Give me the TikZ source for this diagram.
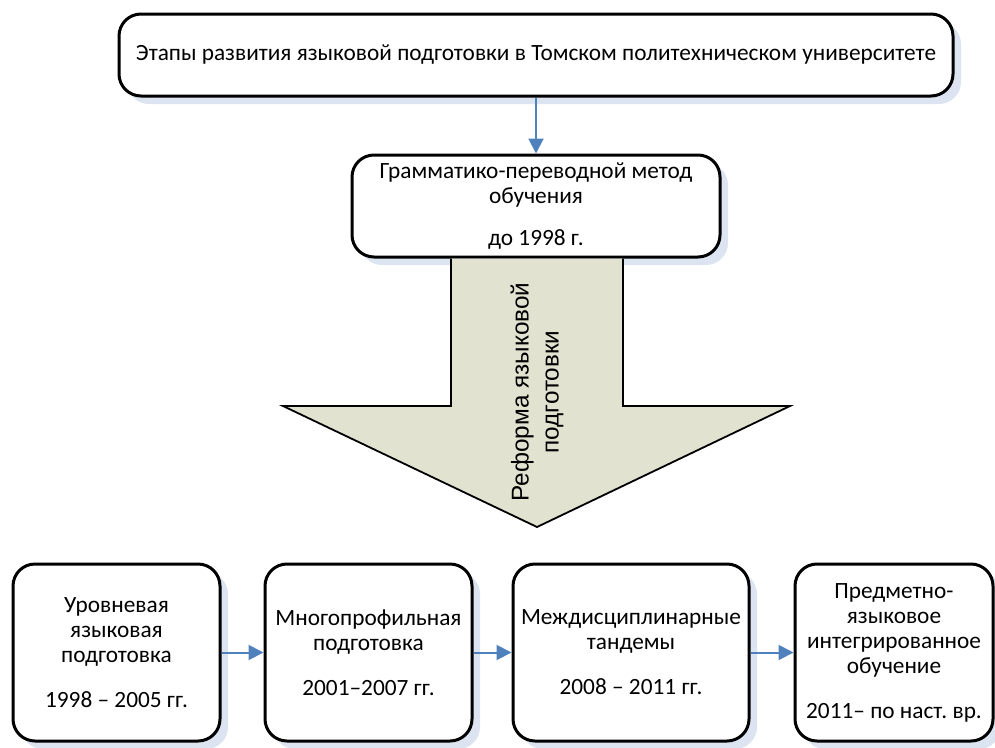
\documentclass[tikz,border=0pt]{standalone}
\usepackage{fontspec}
\setmainfont{Carlito}
\newfontfamily\arialfont{Liberation Sans}
\usetikzlibrary{arrows.meta,shadows}
\definecolor{linkblue}{RGB}{79,129,189}
\definecolor{shadowblue}{RGB}{219,228,240}
\definecolor{reformfill}{RGB}{225,227,208}
\frenchspacing
\begin{document}
\begin{tikzpicture}[x=1pt, y=-1pt,
				stage/.style={draw, line width=3pt, rounded corners=22pt, fill=white, align=center, inner sep=2pt,
					drop shadow={shadow xshift=8pt, shadow yshift=-8pt, fill=shadowblue, opacity=1}},
				link/.style={->, linkblue, line width=2pt},
				>={Triangle[length=15pt,width=15pt]},   %Pfeilspitzen
				font=\fontsize{23.3}{25}\selectfont]
				\useasboundingbox (0,0) rectangle (995,747);
				% Kopfzeile
				\node[stage, minimum width=834pt, minimum height=82pt] (title) at (536,55)
					{Этапы развития языковой подготовки в Томском политехническом университете};
				\node[stage, minimum width=368pt, minimum height=102pt] (method) at (536,206)
					{Грамматико-переводной метод\\обучения\\[17pt]до 1998 г.};
				\draw[link] (title) -- (method);
				% grosser Pfeil
				\draw[line width=1.8pt, fill=reformfill] (451,258.5) -- (451,406) -- (283,406) -- (537,527)
					-- (790,406) -- (623,406) -- (623,258.5);
				\node[rotate=90, align=center, font=\arialfont\fontsize{24.3}{30}\selectfont] (reform) at (537,392)
					{Реформа языковой\\подготовки};
				% Etappen
				\node[stage, minimum width=207pt, minimum height=177pt] (level) at (116.5,652.5)
					{Уровневая\\языковая\\подготовка\\[20pt]1998 – 2005 гг.};
				\node[stage, minimum width=207pt, minimum height=177pt] (multi) at (368.5,652.5)
					{Многопрофильная\\подготовка\\[20pt]2001–2007 гг.};
				\node[stage, minimum width=236pt, minimum height=177pt] (tandem) at (631,652.5)
					{Междисциплинарные\\тандемы\\[20pt]2008 – 2011 гг.};
				\node[stage, minimum width=198pt, minimum height=177pt] (clil) at (894,652.5)
					{Предметно-\\языковое\\интегрированное\\обучение\\[20pt]2011– по наст. вр.};
				\draw[link] (level) -- (multi);
				\draw[link] (multi) -- (tandem);
				\draw[link] (tandem) -- (clil);
			\end{tikzpicture}
\end{document}
